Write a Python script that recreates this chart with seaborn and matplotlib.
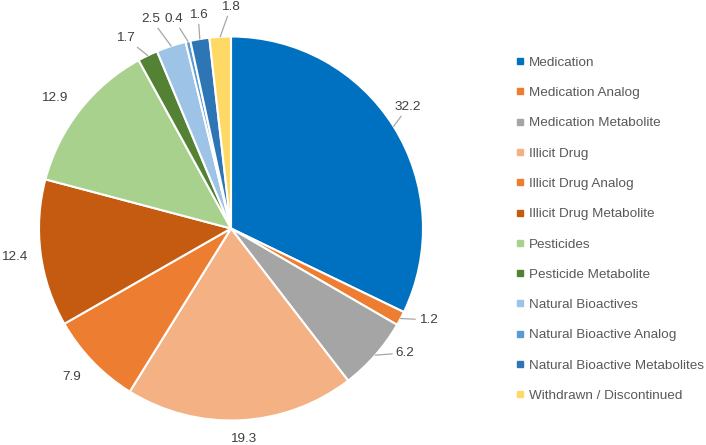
import numpy as np
import matplotlib
matplotlib.use("Agg")
import matplotlib.pyplot as plt
from matplotlib.lines import Line2D
import seaborn as sns

categories = ["Medication", "Medication Analog", "Medication Metabolite", "Illicit Drug",
              "Illicit Drug Analog", "Illicit Drug Metabolite", "Pesticides",
              "Pesticide Metabolite", "Natural Bioactives", "Natural Bioactive Analog",
              "Natural Bioactive Metabolites", "Withdrawn / Discontinued"]
values = [32.2, 1.2, 6.2, 19.3, 7.9, 12.4, 12.9, 1.7, 2.5, 0.4, 1.6, 1.8]
value_labels = ["32.2", "1.2", "6.2", "19.3", "7.9", "12.4", "12.9", "1.7", "2.5", "0.4", "1.6", "1.8"]
colors = ["#0070C0", "#ED7D31", "#A5A5A5", "#F4B183", "#ED7D31", "#C55A11",
          "#A9D18E", "#548235", "#9DC3E6", "#5B9BD5", "#2E75B6", "#FFD966"]

# label layout: radial distance factor, angle offset (deg), leader line
label_r = [1.118, 1.131, 1.114, 1.098, 1.133, 1.140, 1.145, 1.133, 1.168, 1.131, 1.125, 1.154]
label_da = [2.4, 3.1, 5.7, 0.4, -1.0, 0.0, 1.6, 3.2, 2.7, 2.3, -0.6, -3.2]
leader = [True, True, True, False, False, False, False, True, True, True, True, True]

sns.set_style("white")
plt.rcParams["font.family"] = ["Liberation Sans", "DejaVu Sans"]

W, H = 706, 445
fig = plt.figure(figsize=(W / 100, H / 100), dpi=100)
cx, cy, R = 231, 228.5, 192
ax = fig.add_axes([(cx - R) / W, (H - cy - R) / H, 2 * R / W, 2 * R / H])

wedges, _ = ax.pie(values, colors=colors, startangle=90, counterclock=False,
                   wedgeprops=dict(edgecolor="white", linewidth=1.5), radius=1)
ax.set_xlim(-1, 1)
ax.set_ylim(-1, 1)
ax.set_aspect("equal")
ax.axis("off")

for w, lab, rf, da, ld in zip(wedges, value_labels, label_r, label_da, leader):
    mid = np.deg2rad((w.theta1 + w.theta2) / 2)
    ang = mid + np.deg2rad(da)
    tx, ty = rf * np.cos(ang), rf * np.sin(ang)
    if ld:
        ax.annotate(lab, xy=(np.cos(mid), np.sin(mid)), xytext=(tx, ty),
                    ha="center", va="center", fontsize=9.7, color="#404040",
                    annotation_clip=False,
                    arrowprops=dict(arrowstyle="-", color="#A6A6A6", lw=0.9,
                                    shrinkA=0, shrinkB=0))
    else:
        ax.text(tx, ty, lab, ha="center", va="center", fontsize=9.7,
                color="#404040", clip_on=False)

handles = [Line2D([0], [0], marker="s", linestyle="none", markersize=4.2,
                  markerfacecolor=c, markeredgecolor=c) for c in colors]
fig.legend(handles, categories, loc="upper left",
           bbox_to_anchor=(515.8 / W, 1 - 56.5 / H), frameon=False,
           fontsize=9.7, labelcolor="#595959", handlelength=0.6,
           handletextpad=0.4, labelspacing=1.325, borderpad=0, borderaxespad=0)

fig.savefig("out.png", dpi=100)
